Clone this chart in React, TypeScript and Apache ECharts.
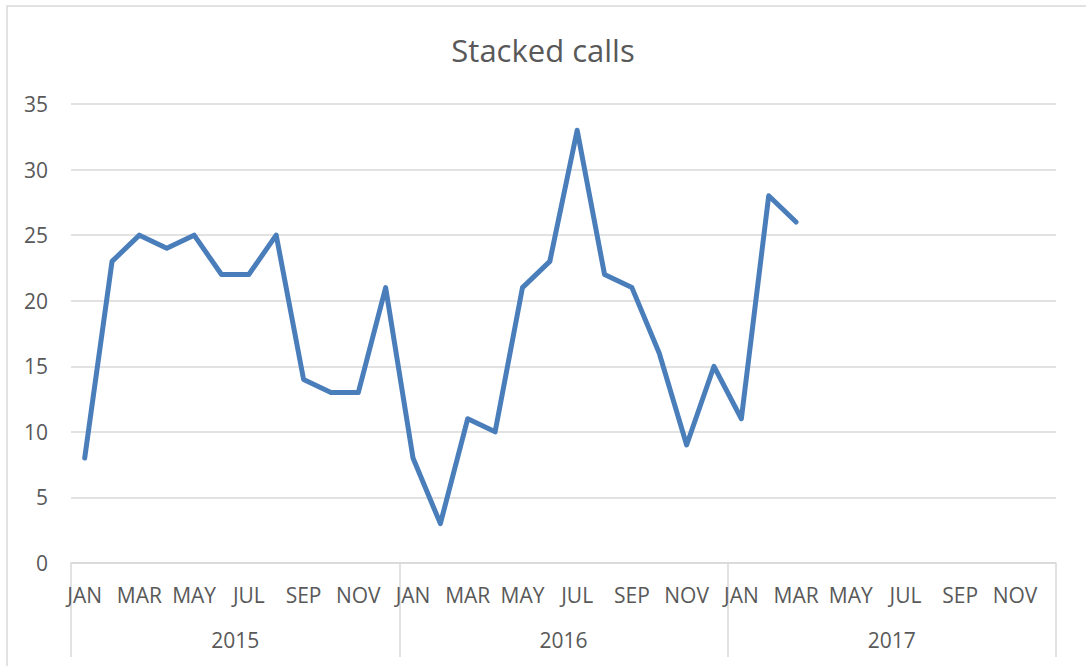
import React, { useEffect, useRef } from "react";
import * as echarts from "echarts";

const monthNames = ["JAN", "FEB", "MAR", "APR", "MAY", "JUN", "JUL", "AUG", "SEP", "OCT", "NOV", "DEC"];
const years = ["2015", "2016", "2017"];
const calls = [8, 23, 25, 24, 25, 22, 22, 25, 14, 13, 13, 21, 8, 3, 11, 10, 21, 23, 33, 22, 21, 16, 9, 15, 11, 28, 26];
const yTicks = { min: 0, max: 35, interval: 5 };

const FONT = "'Open Sans', 'Noto Sans', sans-serif";
const TEXT = "#595959";
const GRID = "#d9d9d9";

export default function App() {
  const ref = useRef<HTMLDivElement>(null);
  useEffect(() => {
    document.body.style.margin = "0";
    if (!ref.current) return;
    const chart = echarts.init(ref.current, undefined, { renderer: "svg" });
    const categories: string[] = [];
    years.forEach(() => monthNames.forEach((m) => categories.push(m)));
    chart.setOption({
      animation: false,
      backgroundColor: "#ffffff",
      title: {
        text: "Stacked calls",
        left: "center",
        top: 29,
        textStyle: { fontFamily: FONT, fontSize: 31, fontWeight: "normal", color: TEXT },
      },
      graphic: [
        {
          type: "rect",
          shape: { x: 7, y: 6, width: 1300, height: 900 },
          style: { fill: "none", stroke: GRID, lineWidth: 1.5 },
          silent: true,
        },
      ],
      grid: { left: 71, right: 30, top: 104, bottom: 103, containLabel: false },
      xAxis: [
        {
          type: "category",
          data: categories,
          boundaryGap: true,
          axisLine: { lineStyle: { color: GRID, width: 1.5 } },
          axisTick: { show: false },
          axisLabel: { interval: 1, margin: 21, fontFamily: FONT, fontSize: 21, color: TEXT },
        },
        {
          type: "category",
          data: years,
          position: "bottom",
          boundaryGap: true,
          axisLine: { show: false },
          axisTick: { show: true, length: 94, lineStyle: { color: GRID, width: 1.5 } },
          axisLabel: { margin: 66, fontFamily: FONT, fontSize: 21, color: TEXT },
        },
      ],
      yAxis: {
        type: "value",
        min: yTicks.min,
        max: yTicks.max,
        interval: yTicks.interval,
        axisLine: { show: false },
        axisTick: { show: false },
        splitLine: { lineStyle: { color: GRID, width: 1.5 } },
        axisLabel: { margin: 23, fontFamily: FONT, fontSize: 21, color: TEXT },
      },
      series: [
        {
          type: "line",
          xAxisIndex: 0,
          data: calls,
          symbol: "none",
          lineStyle: { color: "#4a7ebb", width: 5, cap: "round", join: "round" },
        },
      ],
    });
    return () => chart.dispose();
  }, []);
  return <div ref={ref} style={{ width: 1086, height: 666 }} />;
}
